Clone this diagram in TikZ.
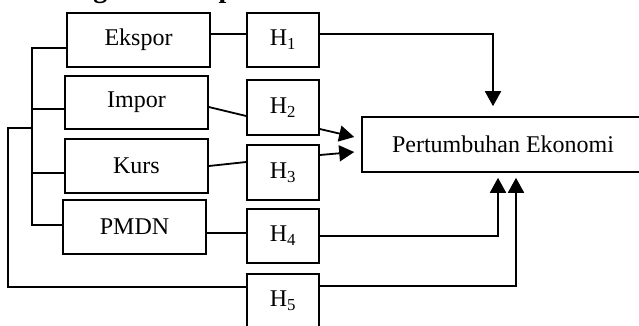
\documentclass[tikz,border=0pt]{standalone}
\usepackage{fontspec}
\setmainfont{Liberation Serif}
\usetikzlibrary{arrows.meta}
\begin{document}
\begin{tikzpicture}[x=1pt,y=-1pt,
  varbox/.style={draw, line width=1.6pt, inner sep=0pt, minimum width=143pt, minimum height=54pt, font=\fontsize{24}{28}\selectfont},
  hbox/.style={draw, line width=1.6pt, inner sep=0pt, minimum width=72pt, minimum height=54pt, font=\fontsize{24}{28}\selectfont},
  conn/.style={line width=1.8pt},
  arr/.style={line width=1.8pt, -{Triangle[length=15pt,width=16pt]}}]
\useasboundingbox (0,0) rectangle (639,325);
\clip (0,0) rectangle (639,325);
% title (cut off at the top in the reference)
\node[anchor=base west, inner sep=0pt, font=\bfseries\fontsize{28}{30}\selectfont] (title) at (17,-3) {Kerangka Konseptual};
% variable boxes
\node[varbox] (ek) at (138.5,40) {Ekspor};
\node[varbox, minimum height=53pt] (im) at (136.5,102.5) {Impor};
\node[varbox] (ku) at (136.5,166) {Kurs};
\node[varbox] (pm) at (134.5,227) {PMDN};
% hypothesis boxes
\node[hbox] (h1) at (283,40) {H\textsubscript{1}};
\node[hbox, minimum height=55pt] (h2) at (283,107.5) {H\textsubscript{2}};
\node[hbox, minimum height=55pt] (h3) at (283,172.5) {H\textsubscript{3}};
\node[hbox] (h4) at (283,236) {H\textsubscript{4}};
\node[hbox] (h5) at (283,301) {H\textsubscript{5}};
% dependent
\node[draw, line width=1.6pt, inner sep=0pt, minimum width=282pt, minimum height=55pt, font=\fontsize{24}{28}\selectfont] (pe) at (503,144.5) {Pertumbuhan Ekonomi};
% inner bracket
\coordinate (i4) at (32,225);
\draw[conn] ([yshift=-8pt]ek.west) -| (i4) -- ([yshift=2pt]pm.west);
\coordinate (imc) at ([yshift=-6.5pt]im.west);
\draw[conn] (imc) -- (imc -| i4);
\coordinate (kuc) at ([yshift=-7pt]ku.west);
\draw[conn] (kuc) -- (kuc -| i4);
% outer bracket
\coordinate (o1) at (8,128);
\draw[conn] (o1 -| i4) -- (o1) |- ([yshift=14pt]h5.west);
% variable to hypothesis
\draw[conn] ([yshift=6pt]ek.east) -- ([yshift=6pt]h1.west);
\draw[conn] ([yshift=-4.5pt]im.east) -- ([yshift=-8.5pt]h2.west);
\draw[conn] (ku.east) -- ([yshift=10.5pt]h3.west);
\draw[conn] ([yshift=-6pt]pm.east) -- ([yshift=3pt]h4.west);
% hypothesis to dependent
\draw[arr] ([yshift=6pt]h1.east) -| ([xshift=-10pt,yshift=10pt]pe.north);
\draw[arr] ([yshift=-21.5pt]h2.east) -- ([xshift=-7pt,yshift=7.5pt]pe.west);
\draw[arr] ([yshift=17.5pt]h3.east) -- ([xshift=-7pt,yshift=-7.5pt]pe.west);
\draw[arr] (h4.east) -| ([xshift=-5pt,yshift=-5pt]pe.south);
\draw[arr] ([yshift=15pt]h5.east) -| ([xshift=13pt,yshift=-5pt]pe.south);
\end{tikzpicture}
\end{document}
